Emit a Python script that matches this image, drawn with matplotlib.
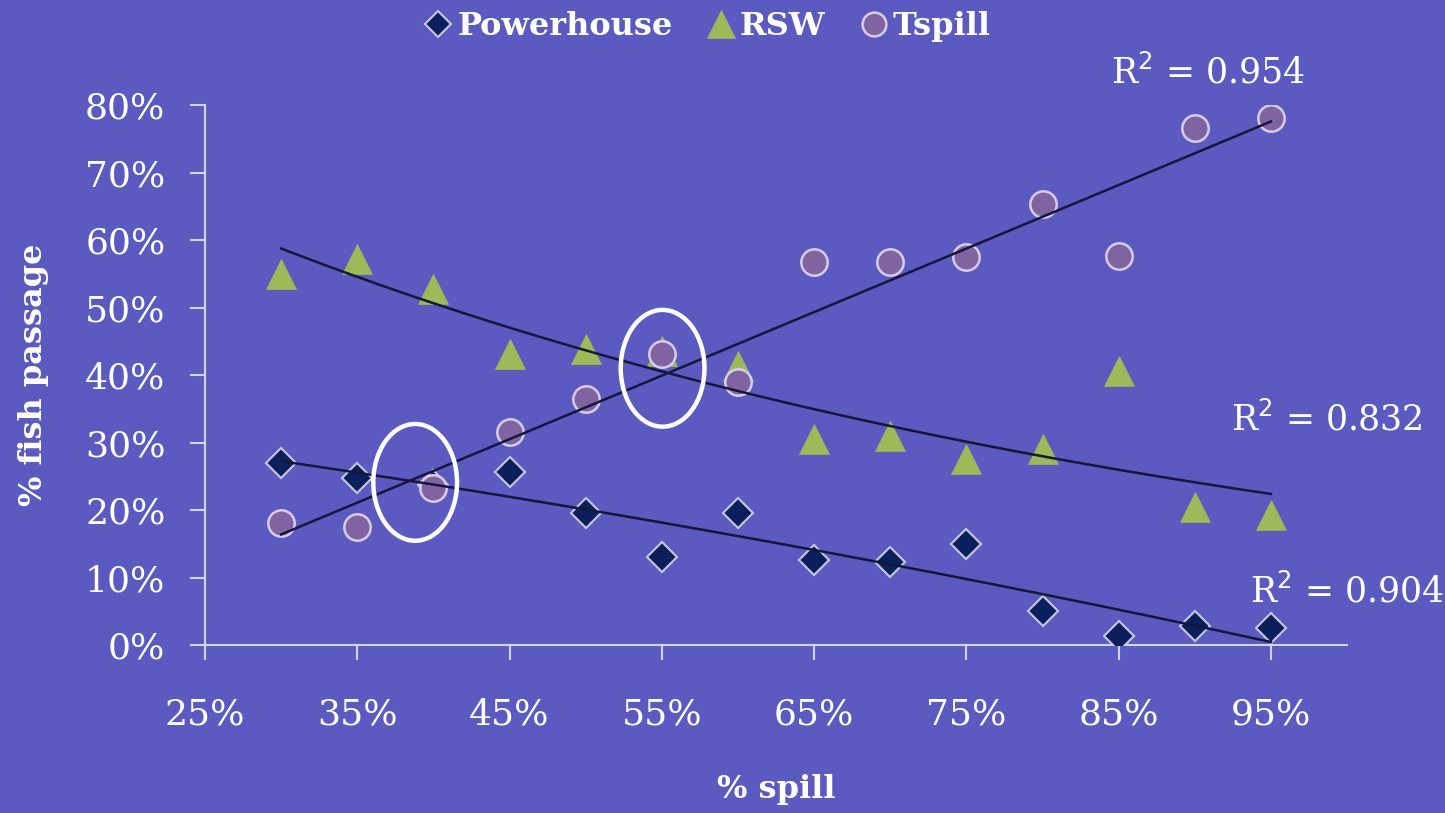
import numpy as np
import matplotlib
matplotlib.use("Agg")
import matplotlib.pyplot as plt
from matplotlib.patches import Ellipse
from matplotlib.ticker import FuncFormatter

# ---- data ----
spill = [0.30, 0.35, 0.40, 0.45, 0.50, 0.55, 0.60, 0.65, 0.70, 0.75, 0.80, 0.85, 0.90, 0.95]
powerhouse = [0.269, 0.248, 0.237, 0.256, 0.196, 0.131, 0.196, 0.126, 0.123, 0.149, 0.051, 0.013, 0.028, 0.025]
rsw = [0.550, 0.572, 0.528, 0.431, 0.439, 0.436, 0.413, 0.305, 0.309, 0.275, 0.290, 0.406, 0.204, 0.193]
tspill = [0.181, 0.175, 0.233, 0.315, 0.364, 0.431, 0.390, 0.567, 0.567, 0.575, 0.654, 0.577, 0.766, 0.781]
r2_labels = ["R$^2$ = 0.904", "R$^2$ = 0.832", "R$^2$ = 0.954"]
series_names = ["Powerhouse", "RSW", "Tspill"]
xticks = [0.25, 0.35, 0.45, 0.55, 0.65, 0.75, 0.85, 0.95]
yticks = [0.0, 0.1, 0.2, 0.3, 0.4, 0.5, 0.6, 0.7, 0.8]
highlights = [(0.388, 0.241), (0.5505, 0.410)]

BG = "#5a5ac0"
AX = "#d4d4f0"
FONT = "DejaVu Serif"

fig = plt.figure(figsize=(14.45, 8.13), dpi=100, facecolor=BG)
ax = fig.add_axes([0.1419, 0.2066, 0.9322 - 0.1419, 0.8708 - 0.2066])
ax.set_facecolor(BG)

x = np.array(spill)
ax.plot(x, powerhouse, linestyle="none", marker="D", markersize=15,
        markerfacecolor="#0b1f5c", markeredgecolor="#c8c8dc", markeredgewidth=1.5,
        label=series_names[0], zorder=3)
ax.plot(x, rsw, linestyle="none", marker="^", markersize=22,
        markerfacecolor="#9bbb59", markeredgecolor="#9bbb59", markeredgewidth=0.5,
        label=series_names[1], zorder=3)
ax.plot(x, tspill, linestyle="none", marker="o", markersize=19,
        markerfacecolor="#8064a2", markeredgecolor="#d8cce8", markeredgewidth=1.8,
        label=series_names[2], zorder=4)

# trend lines
xs = np.linspace(x.min(), x.max(), 200)
c_ph = np.polyfit(x, powerhouse, 2)
ax.plot(xs, np.polyval(c_ph, xs), color="#15163a", lw=1.8, zorder=5)
c_rsw = np.polyfit(x, np.log(rsw), 1)
ax.plot(xs, np.exp(np.polyval(c_rsw, xs)), color="#15163a", lw=1.8, zorder=5)
c_ts = np.polyfit(x, tspill, 1)
ax.plot(xs, np.polyval(c_ts, xs), color="#15163a", lw=1.8, zorder=5)

for cx, cy in highlights:
    ax.add_patch(Ellipse((cx, cy), width=0.055, height=0.173, fill=False,
                         edgecolor="white", lw=3.2, zorder=6))

ax.set_xlim(0.25, 1.00)
ax.set_ylim(0.0, 0.80)
ax.set_xticks(xticks)
ax.set_yticks(yticks)
pct = FuncFormatter(lambda v, p: f"{v*100:.0f}%")
ax.xaxis.set_major_formatter(pct)
ax.yaxis.set_major_formatter(pct)
for s in ("top", "right"):
    ax.spines[s].set_visible(False)
for s in ("left", "bottom"):
    ax.spines[s].set_color(AX)
    ax.spines[s].set_linewidth(1.5)
ax.tick_params(colors=AX, length=10.5, width=1.5, direction="out")
ax.tick_params(axis="y", pad=18)
ax.tick_params(axis="x", pad=27)
for lab in ax.get_xticklabels() + ax.get_yticklabels():
    lab.set_color("white")
    lab.set_fontfamily(FONT)
    lab.set_fontsize(26)

ax.set_xlabel("% spill", color="white", fontsize=23, fontweight="bold",
              fontfamily=FONT, labelpad=31)
ax.set_ylabel("% fish passage", color="white", fontsize=23, fontweight="bold",
              fontfamily=FONT, labelpad=26)

# R² annotations (left edge / vertical centre)
r2_pos = [(0.936, 0.0788), (0.924, 0.3346), (0.845, 0.848)]
for (tx, ty), s in zip(r2_pos, r2_labels):
    ax.text(tx, ty, s, color="white", fontsize=25, fontfamily=FONT,
            va="center", ha="left", clip_on=False, zorder=7)

leg = fig.legend(loc="upper center", bbox_to_anchor=(0.489, 1.022), ncol=3,
                 frameon=False, handletextpad=0.1, columnspacing=1.0,
                 prop={"family": FONT, "weight": "bold", "size": 23},
                 handlelength=1.0, markerscale=0.9)
for t in leg.get_texts():
    t.set_color("white")

fig.savefig("out.png", dpi=100, facecolor=BG)
